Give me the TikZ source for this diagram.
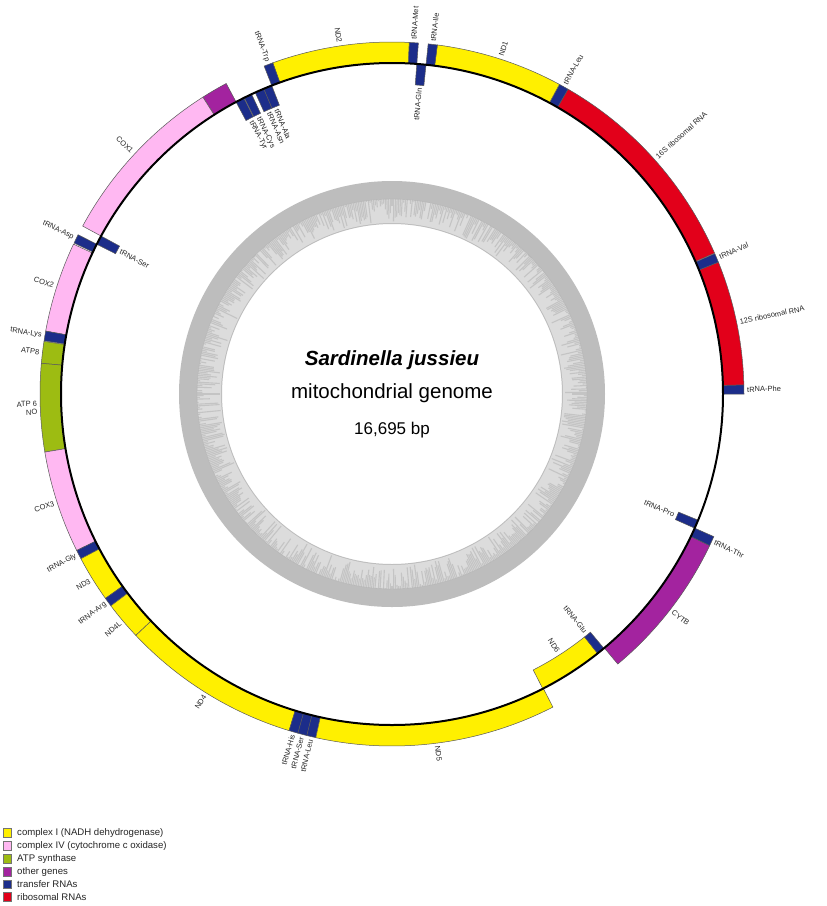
\documentclass[tikz,border=0pt]{standalone}
\usepackage{fontspec}
\setmainfont{Liberation Sans}
\definecolor{cyel}{HTML}{FFF000}
\definecolor{cpink}{HTML}{FFB8F2}
\definecolor{cpurp}{HTML}{A3239F}
\definecolor{cgreen}{HTML}{9DBC12}
\definecolor{cblue}{HTML}{1C2D8A}
\definecolor{cred}{HTML}{E2001A}
\definecolor{ringout}{HTML}{BDBDBD}
\definecolor{ringin}{HTML}{DCDCDC}
\definecolor{ringbar}{HTML}{C4C4C4}
\newcommand\gbox[3]{%
  \filldraw[gb,#3] (#1:331pt) arc[start angle=#1,end angle=#2,radius=331pt]
    -- (#2:352pt) arc[start angle=#2,end angle=#1,radius=352pt] -- cycle;}
\newcommand\gboxin[3]{%
  \filldraw[gb,#3] (#1:331pt) arc[start angle=#1,end angle=#2,radius=331pt]
    -- (#2:310pt) arc[start angle=#2,end angle=#1,radius=310pt] -- cycle;}
\newcommand\olab[3]{%
  \pgfmathsetmacro\tcos{cos(#2)}%
  \ifdim\tcos pt<0pt
    \node[lab,rotate=#2-180,anchor=east] (#1) at (#2:355pt) {#3};
  \else
    \node[lab,rotate=#2,anchor=west] (#1) at (#2:355pt) {#3};
  \fi}
\newcommand\ilab[3]{%
  \pgfmathsetmacro\tcos{cos(#2)}%
  \ifdim\tcos pt<0pt
    \node[lab,rotate=#2-180,anchor=west] (#1) at (#2:307pt) {#3};
  \else
    \node[lab,rotate=#2,anchor=east] (#1) at (#2:307pt) {#3};
  \fi}
\begin{document}
\begin{tikzpicture}[x=1pt,y=1pt,
  lab/.style={font=\fontsize{7.5}{8}\selectfont,inner sep=0pt,text=black!85},
  gb/.style={draw=black!65,line width=0.5pt},
  leg/.style={draw=black!55,line width=0.6pt,minimum size=8.5pt,inner sep=0pt},
  legtext/.style={font=\fontsize{9.6}{10}\selectfont,anchor=west,inner sep=0pt,text=black!85},
  title/.style={font=\fontsize{20.5}{22}\selectfont,anchor=base,inner sep=0pt}]
\useasboundingbox (0,0) rectangle (827,-906);
\fill[white] (0,0) rectangle (827,-906);
\begin{scope}[shift={(392,-394)}]
  % GC ring
  \fill[ringout,even odd rule] (0,0) circle[radius=213pt] (0,0) circle[radius=170pt];
  \fill[ringin,even odd rule] (0,0) circle[radius=195pt] (0,0) circle[radius=171pt];
  \pgfmathsetseed{11}
  \foreach \i in {0,...,719}{
    \pgfmathsetmacro\aa{\i*0.5}
    \pgfmathsetmacro\ll{195-rnd*23}
    \draw[ringbar,line width=1.1pt] (\aa:\ll pt) -- (\aa:195pt);
  }
  \draw[black!30,line width=0.4pt] (0,0) circle[radius=195pt];
  % outer genes
  \gbox{0}{1.5}{fill=cblue}
  \gbox{1.5}{22.0}{fill=cred}
  \gbox{22.0}{23.5}{fill=cblue}
  \gbox{23.6}{60.0}{fill=cred}
  \gbox{60.0}{61.6}{fill=cblue}
  \gbox{61.6}{82.6}{fill=cyel}
  \gbox{82.6}{84.1}{fill=cblue}
  \gbox{85.7}{87.2}{fill=cblue}
  \gbox{87.2}{109.8}{fill=cyel}
  \gbox{109.8}{111.3}{fill=cblue}
  \gbox{118.1}{122.5}{fill=cpurp}
  \gbox{122.5}{151.5}{fill=cpink}
  \gbox{153.1}{154.6}{fill=cblue}
  \gbox{154.8}{169.7}{fill=cpink}
  \gbox{169.7}{171.3}{fill=cblue}
  \gbox{171.4}{175.0}{fill=cgreen}
  \gbox{175.0}{189.5}{fill=cgreen}
  \gbox{189.5}{206.4}{fill=cpink}
  \gbox{206.4}{207.9}{fill=cblue}
  \gbox{207.9}{215.5}{fill=cyel}
  \gbox{215.5}{217.0}{fill=cblue}
  \gbox{217.0}{223.3}{fill=cyel}
  \gbox{223.3}{253.0}{fill=cyel}
  \gbox{253.0}{254.5}{fill=cblue}
  \gbox{254.5}{256.0}{fill=cblue}
  \gbox{256.0}{257.5}{fill=cblue}
  \gbox{257.5}{297.2}{fill=cyel}
  \gbox{309.9}{334.5}{fill=cpurp}
  \gbox{334.5}{336.1}{fill=cblue}
  % inner genes
  \gboxin{84.1}{85.7}{fill=cblue}
  \gboxin{111.3}{112.8}{fill=cblue}
  \gboxin{112.8}{114.4}{fill=cblue}
  \gboxin{115.1}{116.5}{fill=cblue}
  \gboxin{116.6}{118.1}{fill=cblue}
  \gboxin{151.5}{153.1}{fill=cblue}
  \gboxin{297.1}{308.4}{fill=cyel}
  \gboxin{308.4}{309.8}{fill=cblue}
  \gboxin{336.1}{337.6}{fill=cblue}
  % genome circle
  \draw[black,line width=2pt] (0,0) circle[radius=331pt];
  % outer labels
  \olab{lPhe}{0.75}{tRNA-Phe}
  \olab{l12S}{11.75}{12S ribosomal RNA}
  \olab{lVal}{22.75}{tRNA-Val}
  \olab{l16S}{41.8}{16S ribosomal RNA}
  \olab{lLeuA}{60.8}{tRNA-Leu}
  \olab{lND1}{72.1}{ND1}
  \olab{lIle}{83.35}{tRNA-Ile}
  \olab{lMet}{86.45}{tRNA-Met}
  \olab{lND2}{98.5}{ND2}
  \olab{lTrp}{110.55}{tRNA-Trp}
  \olab{lCOX1}{137}{COX1}
  \olab{lAsp}{153.85}{tRNA-Asp}
  \olab{lCOX2}{162.25}{COX2}
  \olab{lLys}{170.5}{tRNA-Lys}
  \olab{lATP8}{173.2}{ATP8}
  \olab{lATP6}{182.25}{\shortstack[r]{ATP 6\\NO}}
  \olab{lCOX3}{197.95}{COX3}
  \olab{lGly}{207.15}{tRNA-Gly}
  \olab{lND3}{211.7}{ND3}
  \olab{lArg}{216.25}{tRNA-Arg}
  \olab{lND4L}{220.15}{ND4L}
  \olab{lND4}{238.15}{ND4}
  \olab{lHis}{253.75}{tRNA-His}
  \olab{lSerB}{255.25}{tRNA-Ser}
  \olab{lLeuB}{256.75}{tRNA-Leu}
  \olab{lND5}{277.35}{ND5}
  \olab{lCYTB}{322.2}{CYTB}
  \olab{lThr}{335.3}{tRNA-Thr}
  % inner labels
  \ilab{lGln}{84.9}{tRNA-Gln}
  \ilab{lAla}{112.05}{tRNA-Ala}
  \ilab{lAsn}{113.6}{tRNA-Asn}
  \ilab{lCys}{115.8}{tRNA-Cys}
  \ilab{lTyr}{117.35}{tRNA-Tyr}
  \ilab{lSerA}{152.3}{tRNA-Ser}
  \ilab{lND6}{302.75}{ND6}
  \ilab{lGlu}{309.1}{tRNA-Glu}
  \ilab{lPro}{336.85}{tRNA-Pro}
\end{scope}
% centre text
\node[title] (name) at (392,-365) {\bfseries\itshape Sardinella jussieu};
\node[title] (mito) at (392,-398) {mitochondrial genome};
\node[title,font=\fontsize{17}{20}\selectfont] (bp) at (392,-434) {16,695 bp};
% legend
\node[leg,fill=cyel] (k1) at (7.5,-833) {};
\node[leg,fill=cpink] (k2) at (7.5,-846) {};
\node[leg,fill=cgreen] (k3) at (7.5,-859) {};
\node[leg,fill=cpurp] (k4) at (7.5,-872) {};
\node[leg,fill=cblue] (k5) at (7.5,-884.5) {};
\node[leg,fill=cred] (k6) at (7.5,-897) {};
\node[legtext] (t1) at (17,-833) {complex I (NADH dehydrogenase)};
\node[legtext] (t2) at (17,-846) {complex IV (cytochrome c oxidase)};
\node[legtext] (t3) at (17,-859) {ATP synthase};
\node[legtext] (t4) at (17,-872) {other genes};
\node[legtext] (t5) at (17,-884.5) {transfer RNAs};
\node[legtext] (t6) at (17,-897) {ribosomal RNAs};
\end{tikzpicture}
\end{document}
